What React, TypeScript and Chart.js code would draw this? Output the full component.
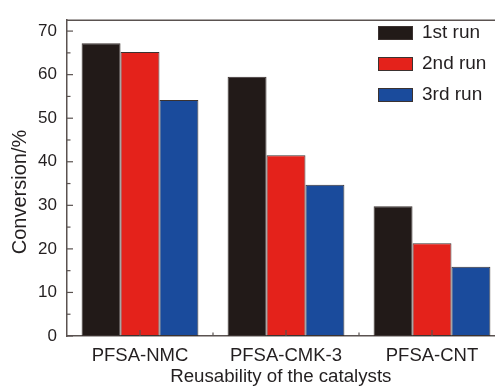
import React, { useEffect, useRef } from "react";
import { Chart, registerables } from "chart.js";

Chart.register(...registerables);

const categories = ["PFSA-NMC", "PFSA-CMK-3", "PFSA-CNT"];
const seriesLabels = ["1st run", "2nd run", "3rd run"];
const run1 = [67.2, 59.5, 29.8];
const run2 = [65.2, 41.5, 21.3];
const run3 = [54.2, 34.7, 15.9];
const yTicks = [0, 10, 20, 30, 40, 50, 60, 70];
const yMinorStep = 5;
const yMax = 72.5;

const colors = ["#221a18", "#e4221b", "#1a4b9c"];
const FONT = "'Liberation Sans', Arial, sans-serif";
const AXIS = "#5a5250";
const TEXT = "#231f20";

const framePlugin = {
  id: "frame",
  afterDatasetsDraw(chart: any) {
    const { ctx, chartArea, scales } = chart;
    const x = scales.x;
    const y = scales.y;
    ctx.save();
    ctx.strokeStyle = AXIS;
    ctx.lineWidth = 1.5;
    ctx.beginPath();
    ctx.moveTo(chartArea.left, chartArea.top);
    ctx.lineTo(chartArea.right, chartArea.top);
    ctx.stroke();
    ctx.lineWidth = 1.2;
    for (let v = 0; v <= yMax; v += yMinorStep) {
      const py = y.getPixelForValue(v);
      const len = v % 10 === 0 ? 6 : 3.5;
      ctx.beginPath();
      ctx.moveTo(chartArea.left, py);
      ctx.lineTo(chartArea.left + len, py);
      ctx.stroke();
    }
    for (let i = 0; i < categories.length; i++) {
      const px = x.getPixelForValue(i);
      ctx.beginPath();
      ctx.moveTo(px, chartArea.bottom);
      ctx.lineTo(px, chartArea.bottom - 6);
      ctx.stroke();
      if (i < categories.length - 1) {
        const mx = (px + x.getPixelForValue(i + 1)) / 2;
        ctx.beginPath();
        ctx.moveTo(mx, chartArea.bottom);
        ctx.lineTo(mx, chartArea.bottom - 3.5);
        ctx.stroke();
      }
    }
    ctx.restore();
  },
  afterDraw(chart: any) {
    const { ctx } = chart;
    ctx.save();
    const sx = 378;
    const sy = 26;
    const gap = 31;
    chart.data.datasets.forEach((ds: any, i: number) => {
      const top = sy + i * gap;
      ctx.fillStyle = ds.backgroundColor;
      ctx.fillRect(sx, top, 35, 14);
      ctx.strokeStyle = "#3b3230";
      ctx.lineWidth = 1;
      ctx.strokeRect(sx + 0.5, top + 0.5, 34, 13);
      ctx.fillStyle = TEXT;
      ctx.font = `19px ${FONT}`;
      ctx.textBaseline = "middle";
      ctx.textAlign = "left";
      ctx.fillText(ds.label, 422, top + 7);
    });
    ctx.restore();
  },
};

export default function App() {
  const ref = useRef<HTMLCanvasElement | null>(null);
  useEffect(() => {
    document.body.style.margin = "0";
    document.body.style.overflow = "hidden";
    const canvas = ref.current;
    if (!canvas) return;
    const datasets = [run1, run2, run3].map((d, i) => ({
      label: seriesLabels[i],
      data: d,
      backgroundColor: colors[i],
      borderColor: "#3b3230",
      borderWidth: 1,
      borderSkipped: false as const,
      categoryPercentage: 0.8,
      barPercentage: 1.0,
    }));
    const chart = new Chart(canvas, {
      type: "bar",
      data: { labels: categories, datasets },
      options: {
        animation: false,
        responsive: false,
        devicePixelRatio: 1,
        layout: { padding: { top: 13, right: 25, left: 0, bottom: 0 } },
        plugins: { legend: { display: false }, tooltip: { enabled: false } },
        scales: {
          x: {
            grid: { display: false, tickLength: 0 },
            border: { display: true, color: AXIS, width: 1.5 },
            ticks: { color: TEXT, font: { family: FONT, size: 18.5 }, padding: 9 },
            title: {
              display: true,
              text: "Reusability of the catalysts  ",
              color: TEXT,
              font: { family: FONT, size: 18.7 },
              padding: { top: 0, bottom: 0 },
            },
            afterFit(scale: any) {
              scale.height = 52;
            },
          },
          y: {
            min: 0,
            max: yMax,
            grid: { display: false, tickLength: 0 },
            border: { display: true, color: AXIS, width: 1.5 },
            ticks: { color: TEXT, font: { family: FONT, size: 17 }, padding: 10 },
            afterBuildTicks(scale: any) {
              scale.ticks = yTicks.map((v) => ({ value: v }));
            },
            title: {
              display: true,
              text: "Conversion/%     ",
              color: TEXT,
              font: { family: FONT, size: 20 },
              padding: { top: 8, bottom: 0 },
            },
            afterFit(scale: any) {
              scale.width = 67;
            },
          },
        },
      },
      plugins: [framePlugin],
    });
    return () => chart.destroy();
  }, []);
  return (
    <div style={{ width: 530, height: 388 }}>
      <canvas ref={ref} width={530} height={388} />
    </div>
  );
}
